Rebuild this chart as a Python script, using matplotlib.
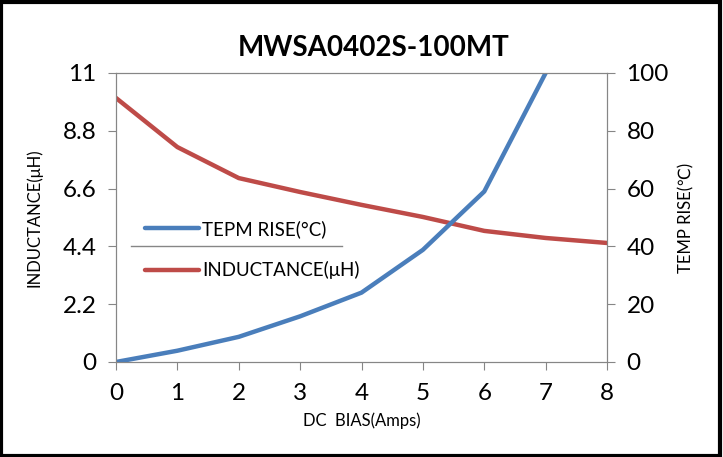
import matplotlib
matplotlib.use('Agg')
import matplotlib.pyplot as plt
from matplotlib.patches import Rectangle

plt.rcParams['font.family'] = ['Lato', 'DejaVu Sans']

# data
bias = [0, 1, 2, 3, 4, 5, 6, 7, 8]
inductance = [10.05, 8.18, 7.0, 6.47, 5.98, 5.52, 4.99, 4.72, 4.53]
bias_temp = [0, 1, 2, 3, 4, 5, 6, 7]
temp_rise = [0, 3.9, 8.7, 15.8, 24.0, 38.8, 59.0, 100.0]

blue = '#4A7EBB'
red = '#BE4B48'
gray = '#868686'

fig = plt.figure(figsize=(7.23, 4.57), dpi=100)
ax = fig.add_axes([0.1604, 0.2079, 0.6792, 0.6324])
ax2 = ax.twinx()

l_ind, = ax.plot(bias, inductance, color=red, lw=3.2, solid_capstyle='round', label='INDUCTANCE(μH)')
l_tmp, = ax2.plot(bias_temp, temp_rise, color=blue, lw=3.2, solid_capstyle='round', label='TEPM RISE(°C)')
ax2.set_zorder(ax.get_zorder() + 1)
ax2.patch.set_visible(False)

ax.set_xlim(0, 8)
ax.set_ylim(0, 11)
ax2.set_ylim(0, 100)
ax.set_xticks(range(0, 9))
ax.set_yticks([0, 2.2, 4.4, 6.6, 8.8, 11])
ax.set_yticklabels(['0', '2.2', '4.4', '6.6', '8.8', '11'])
ax2.set_yticks([0, 20, 40, 60, 80, 100])

# odd grid stub visible behind the legend
ax.axhline(4.4, xmin=0.03, xmax=0.46, color=gray, lw=1)

for a in (ax, ax2):
    for s in a.spines.values():
        s.set_color(gray)
    a.tick_params(direction='out', length=6, color=gray, labelsize=17.5, pad=8)
ax.tick_params(axis='x', pad=9)

ax.set_title('MWSA0402S-100MT', fontsize=20, fontweight='bold', pad=12, x=0.525)
ax.set_xlabel('DC  BIAS(Amps)', fontsize=12, labelpad=6)
ax.set_ylabel('INDUCTANCE(μH)', fontsize=12)
ax.yaxis.set_label_coords(-0.15, 0.5)
ax2.set_ylabel('TEMP RISE(℃)', fontsize=12)
ax2.yaxis.set_label_coords(1.145, 0.5)

ax2.legend(handles=[l_tmp, l_ind], loc='upper left', bbox_to_anchor=(0.025, 0.55),
           frameon=False, fontsize=13.5, handlelength=2.9, labelspacing=1.25,
           handletextpad=0.15)

fig.patches.append(Rectangle((0.002, 0.003), 0.994, 0.993, transform=fig.transFigure,
                             fill=False, edgecolor='black', lw=3))

plt.savefig('out.png', dpi=100)
plt.close()
